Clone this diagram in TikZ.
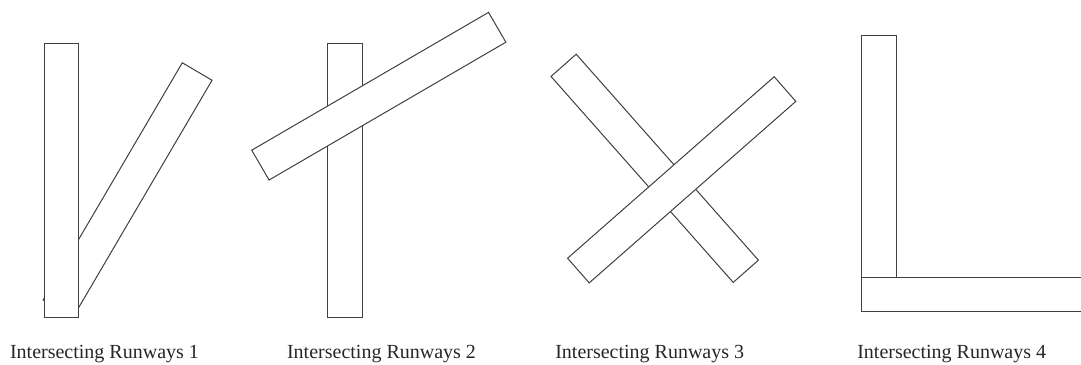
\documentclass[tikz,border=0pt]{standalone}
\usepackage{fontspec}
\setmainfont{Liberation Serif}
\usepackage{tikz}

\tikzset{
  runway/.style={draw=black!75, fill=white, line width=1pt, inner sep=0pt,
    minimum width=274pt, minimum height=34pt},
  caption/.style={anchor=base, font=\fontsize{20}{24}\selectfont, text=black!85}
}

\begin{document}
\begin{tikzpicture}[x=1pt,y=-1pt]
  \clip (0,0) rectangle (1081,364);
  \useasboundingbox (0,0) rectangle (1081,364);

  % runways 1
  \node[runway, minimum width=275pt, minimum height=34.5pt, rotate=59.6] (diagOne) at (127.6,190.1) {};
  \node[runway, minimum width=274pt, minimum height=34pt, rotate=90] (vertOne) at (61.3,180.3) {};

  % runways 2
  \node[runway, minimum width=274.5pt, minimum height=35pt, rotate=90] (vertTwo) at (344.8,180.3) {};
  \node[runway, minimum height=34.5pt, rotate=30.2] (diagTwo) at (378.8,96.2) {};

  % runways 3
  \node[runway, minimum width=275pt, minimum height=33.6pt, rotate=-48.5] (downThree) at (654.7,168.3) {};
  \node[runway, minimum width=275pt, minimum height=32.8pt, rotate=41.3] (upThree) at (681.7,179.8) {};

  % runways 4
  \node[runway, minimum height=35pt, rotate=90] (vertFour) at (879.2,172.8) {};
  \node[runway, minimum height=34.3pt] (horizFour) at (998.7,294.8) {};

  \node[caption] (capOne) at (104.5,358.3) {Intersecting Runways 1};
  \node[caption] (capTwo) at (381.5,358.3) {Intersecting Runways 2};
  \node[caption] (capThree) at (649.7,358.3) {Intersecting Runways 3};
  \node[caption] (capFour) at (951.7,358.3) {Intersecting Runways 4};
\end{tikzpicture}
\end{document}
